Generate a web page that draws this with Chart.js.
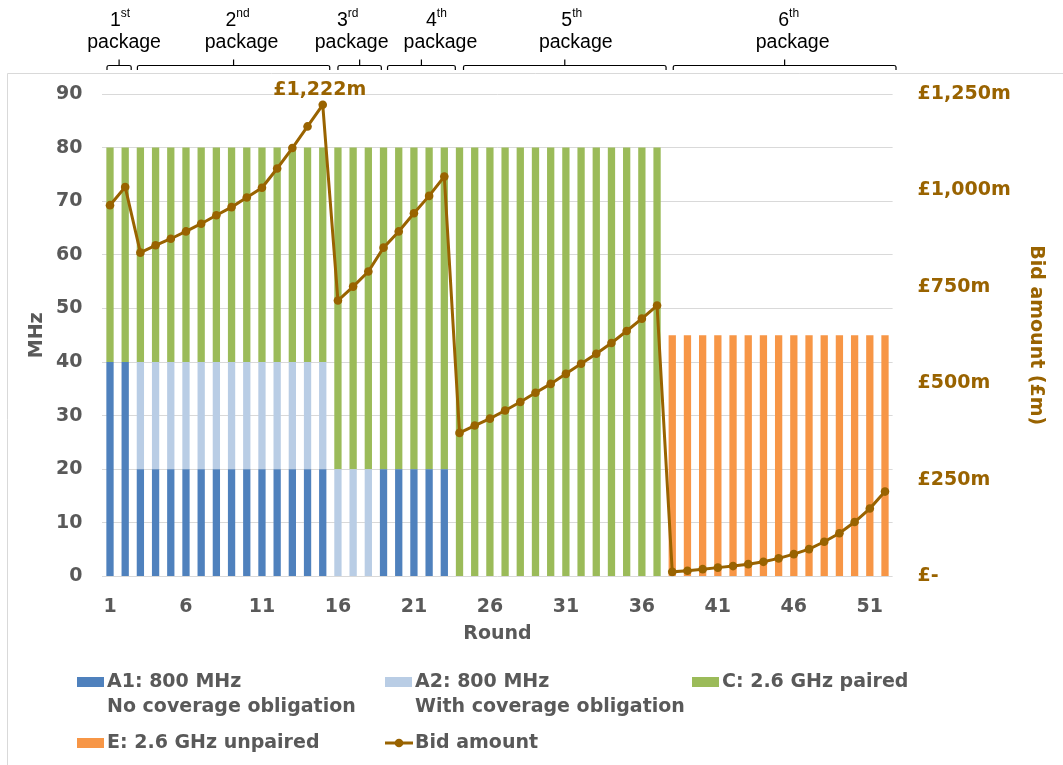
<!DOCTYPE html>
<html><head><meta charset="utf-8">
<script src="https://cdn.jsdelivr.net/npm/chart.js@4.4.1/dist/chart.umd.min.js"></script>
<style>html,body{margin:0;padding:0;background:#fff}#wrap{width:1063px;height:765px;position:relative}</style>
</head><body><div id="wrap"><canvas id="c" width="1063" height="765"></canvas></div>
<script>
const rounds = [1,2,3,4,5,6,7,8,9,10,11,12,13,14,15,16,17,18,19,20,21,22,23,24,25,26,27,28,29,30,31,32,33,34,35,36,37,38,39,40,41,42,43,44,45,46,47,48,49,50,51,52];
const a1 = [40,40,20,20,20,20,20,20,20,20,20,20,20,20,20,0,0,0,20,20,20,20,20,0,0,0,0,0,0,0,0,0,0,0,0,0,0,0,0,0,0,0,0,0,0,0,0,0,0,0,0,0];
const a2 = [0,0,20,20,20,20,20,20,20,20,20,20,20,20,20,20,20,20,0,0,0,0,0,0,0,0,0,0,0,0,0,0,0,0,0,0,0,0,0,0,0,0,0,0,0,0,0,0,0,0,0,0];
const c26 = [40,40,40,40,40,40,40,40,40,40,40,40,40,40,40,60,60,60,60,60,60,60,60,80,80,80,80,80,80,80,80,80,80,80,80,80,80,0,0,0,0,0,0,0,0,0,0,0,0,0,0,0];
const e26 = [0,0,0,0,0,0,0,0,0,0,0,0,0,0,0,0,0,0,0,0,0,0,0,0,0,0,0,0,0,0,0,0,0,0,0,0,0,45,45,45,45,45,45,45,45,45,45,45,45,45,45,45];
const bid = [962,1009,839,858,875,894,914,936,957,982,1007,1057,1110,1166,1222,715,751,790,852,894,941,986,1036,372,391,409,430,452,476,499,525,551,577,605,636,668,702,12,15,19,23,27,32,38,47,58,71,90,112,141,176,220];
const peakLabel = '£1,222m';
const packageNums = ['1','2','3','4','5','6'];
const packageSup = ['st','nd','rd','th','th','th'];
const packageFirst = [1,3,16,19,24,38];
const packageLast = [2,15,18,23,37,52];
const seriesNames = ['A1: 800 MHz','A2: 800 MHz','C: 2.6 GHz paired','E: 2.6 GHz unpaired','Bid amount'];
const seriesSub = ['No coverage obligation','With coverage obligation','','',''];

const GRAY = '#595959', BROWN = '#996300';
const COLORS = ['#4F81BD','#B9CDE5','#9BBB59','#F79646'];
const F = 'DejaVu Sans';
const boldFont = (s) => ({family: F, size: s, weight: 'bold'});

function barDs(i, data) {
  return {type:'bar', label: seriesNames[i], data, backgroundColor: COLORS[i], yAxisID:'y', order:1,
    barPercentage:0.48, categoryPercentage:1, borderWidth:0};
}

const deco = {
  id: 'deco',
  beforeDraw(chart) {
    const ctx = chart.ctx;
    ctx.save();
    ctx.fillStyle = '#fff';
    ctx.fillRect(0, 0, chart.width, chart.height);
    ctx.strokeStyle = '#D9D9D9';
    ctx.lineWidth = 1;
    ctx.beginPath();
    ctx.moveTo(7.5, 765); ctx.lineTo(7.5, 73.5); ctx.lineTo(1063, 73.5);
    ctx.stroke();
    ctx.restore();
  },
  afterDraw(chart) {
    const ctx = chart.ctx;
    const xs = chart.scales.x;
    // layout of the package captions (pixel shifts from bracket middle)
    const captionShift = [5, 8, -8, 19, 11, 8];
    const startAdj = [-3, -3, 0, 4, 4, 1];
    const endAdj = [6, 7, 13, 11, 9, 11];
    ctx.save();
    ctx.strokeStyle = '#000';
    ctx.lineWidth = 1.2;
    ctx.fillStyle = '#000';
    for (let i = 0; i < packageFirst.length; i++) {
      const x0 = xs.getPixelForValue(packageFirst[i] - 1) + startAdj[i];
      const x1 = xs.getPixelForValue(packageLast[i] - 1) + endAdj[i];
      const mid = (x0 + x1) / 2;
      ctx.beginPath();
      ctx.moveTo(x0, 70); ctx.lineTo(x0, 67); ctx.quadraticCurveTo(x0, 65.5, x0 + 2, 65.5);
      ctx.lineTo(x1 - 2, 65.5); ctx.quadraticCurveTo(x1, 65.5, x1, 67); ctx.lineTo(x1, 70);
      ctx.moveTo(mid, 65.5); ctx.lineTo(mid, 59.5);
      ctx.stroke();
      const tc = mid + captionShift[i];
      ctx.font = '19.5px "Liberation Sans", Arial, sans-serif';
      ctx.textBaseline = 'middle';
      ctx.textAlign = 'center';
      ctx.fillText('package', tc, 43);
      const wN = ctx.measureText(packageNums[i]).width;
      ctx.font = '12px "Liberation Sans", Arial, sans-serif';
      const wS = ctx.measureText(packageSup[i]).width;
      const start = tc - 4 - (wN + wS) / 2;
      ctx.textAlign = 'left';
      ctx.font = '19.5px "Liberation Sans", Arial, sans-serif';
      ctx.fillText(packageNums[i], start, 21);
      ctx.font = '12px "Liberation Sans", Arial, sans-serif';
      ctx.fillText(packageSup[i], start + wN, 14);
    }
    // peak label
    const meta = chart.getDatasetMeta(4);
    const pi = bid.indexOf(Math.max(...bid));
    const pt = meta.data[pi];
    ctx.fillStyle = BROWN;
    ctx.font = 'bold 19px "DejaVu Sans"';
    ctx.textAlign = 'center';
    ctx.textBaseline = 'middle';
    ctx.fillText(peakLabel, pt.x - 3, pt.y - 15);
    // legend
    ctx.font = 'bold 19px "DejaVu Sans"';
    ctx.textAlign = 'left';
    const items = [
      {i:0, bx:77, ty:682}, {i:1, bx:385, ty:682}, {i:2, bx:692, ty:682},
      {i:3, bx:77, ty:743}, {i:4, bx:385, ty:743}
    ];
    items.forEach(it => {
      if (it.i < 4) {
        ctx.fillStyle = COLORS[it.i];
        ctx.fillRect(it.bx, it.ty - 5, 27, 10);
      } else {
        ctx.strokeStyle = BROWN; ctx.lineWidth = 3;
        ctx.beginPath(); ctx.moveTo(it.bx, it.ty); ctx.lineTo(it.bx + 28, it.ty); ctx.stroke();
        ctx.fillStyle = BROWN;
        ctx.beginPath(); ctx.arc(it.bx + 14, it.ty, 4.3, 0, Math.PI * 2); ctx.fill();
      }
      ctx.fillStyle = GRAY;
      ctx.fillText(seriesNames[it.i], it.bx + 30, it.ty);
      if (seriesSub[it.i]) ctx.fillText(seriesSub[it.i], it.bx + 30, it.ty + 25);
    });
    ctx.restore();
  }
};

new Chart(document.getElementById('c'), {
  type: 'bar',
  data: {
    labels: rounds,
    datasets: [
      barDs(0, a1), barDs(1, a2), barDs(2, c26), barDs(3, e26),
      {type:'line', label: seriesNames[4], data: bid, yAxisID:'y1', order:0,
        borderColor: BROWN, backgroundColor: BROWN, borderWidth: 3, tension: 0,
        pointRadius: 4.3, pointBackgroundColor: BROWN, pointBorderWidth: 0, pointBorderColor: BROWN}
    ]
  },
  options: {
    responsive: false,
    animation: false,
    devicePixelRatio: 1,
    layout: {padding: {top: 94, bottom: 108.5, left: 0, right: 0}},
    plugins: {legend: {display: false}, tooltip: {enabled: false}},
    scales: {
      x: {
        stacked: true, offset: true,
        grid: {display: false, drawTicks: false},
        border: {display: false},
        ticks: {autoSkip: false, maxRotation: 0, minRotation: 0, padding: 19, color: GRAY, font: boldFont(19),
          callback: (v, i) => (i % 5 === 0 ? String(rounds[i]) : null)},
        title: {display: true, text: 'Round', color: GRAY, font: boldFont(19), padding: {top: 0, bottom: 11.5}},
        afterFit: (s) => { s.height = 80; }
      },
      y: {
        position: 'left', stacked: true, min: 0, max: 90,
        grid: {color: '#D9D9D9', lineWidth: 1, drawTicks: false},
        border: {display: false},
        ticks: {stepSize: 10, padding: 20, color: GRAY, font: boldFont(19)},
        title: {display: true, text: 'MHz', color: GRAY, font: boldFont(19), padding: {top: 26, bottom: 0}},
        afterFit: (s) => { s.width = 102.4; }
      },
      y1: {
        position: 'right', min: 0, max: 1250,
        grid: {display: false, drawTicks: false},
        border: {display: false},
        ticks: {stepSize: 250, padding: 25, color: BROWN, font: boldFont(19),
          callback: (v) => (v === 0 ? '£-' : '£' + v.toLocaleString('en-GB') + 'm')},
        title: {display: true, text: 'Bid amount (£m)', color: BROWN, font: boldFont(19), padding: {top: 16, bottom: 0}},
        afterFit: (s) => { s.width = 170.4; }
      }
    }
  },
  plugins: [deco]
});
</script>
</body></html>
